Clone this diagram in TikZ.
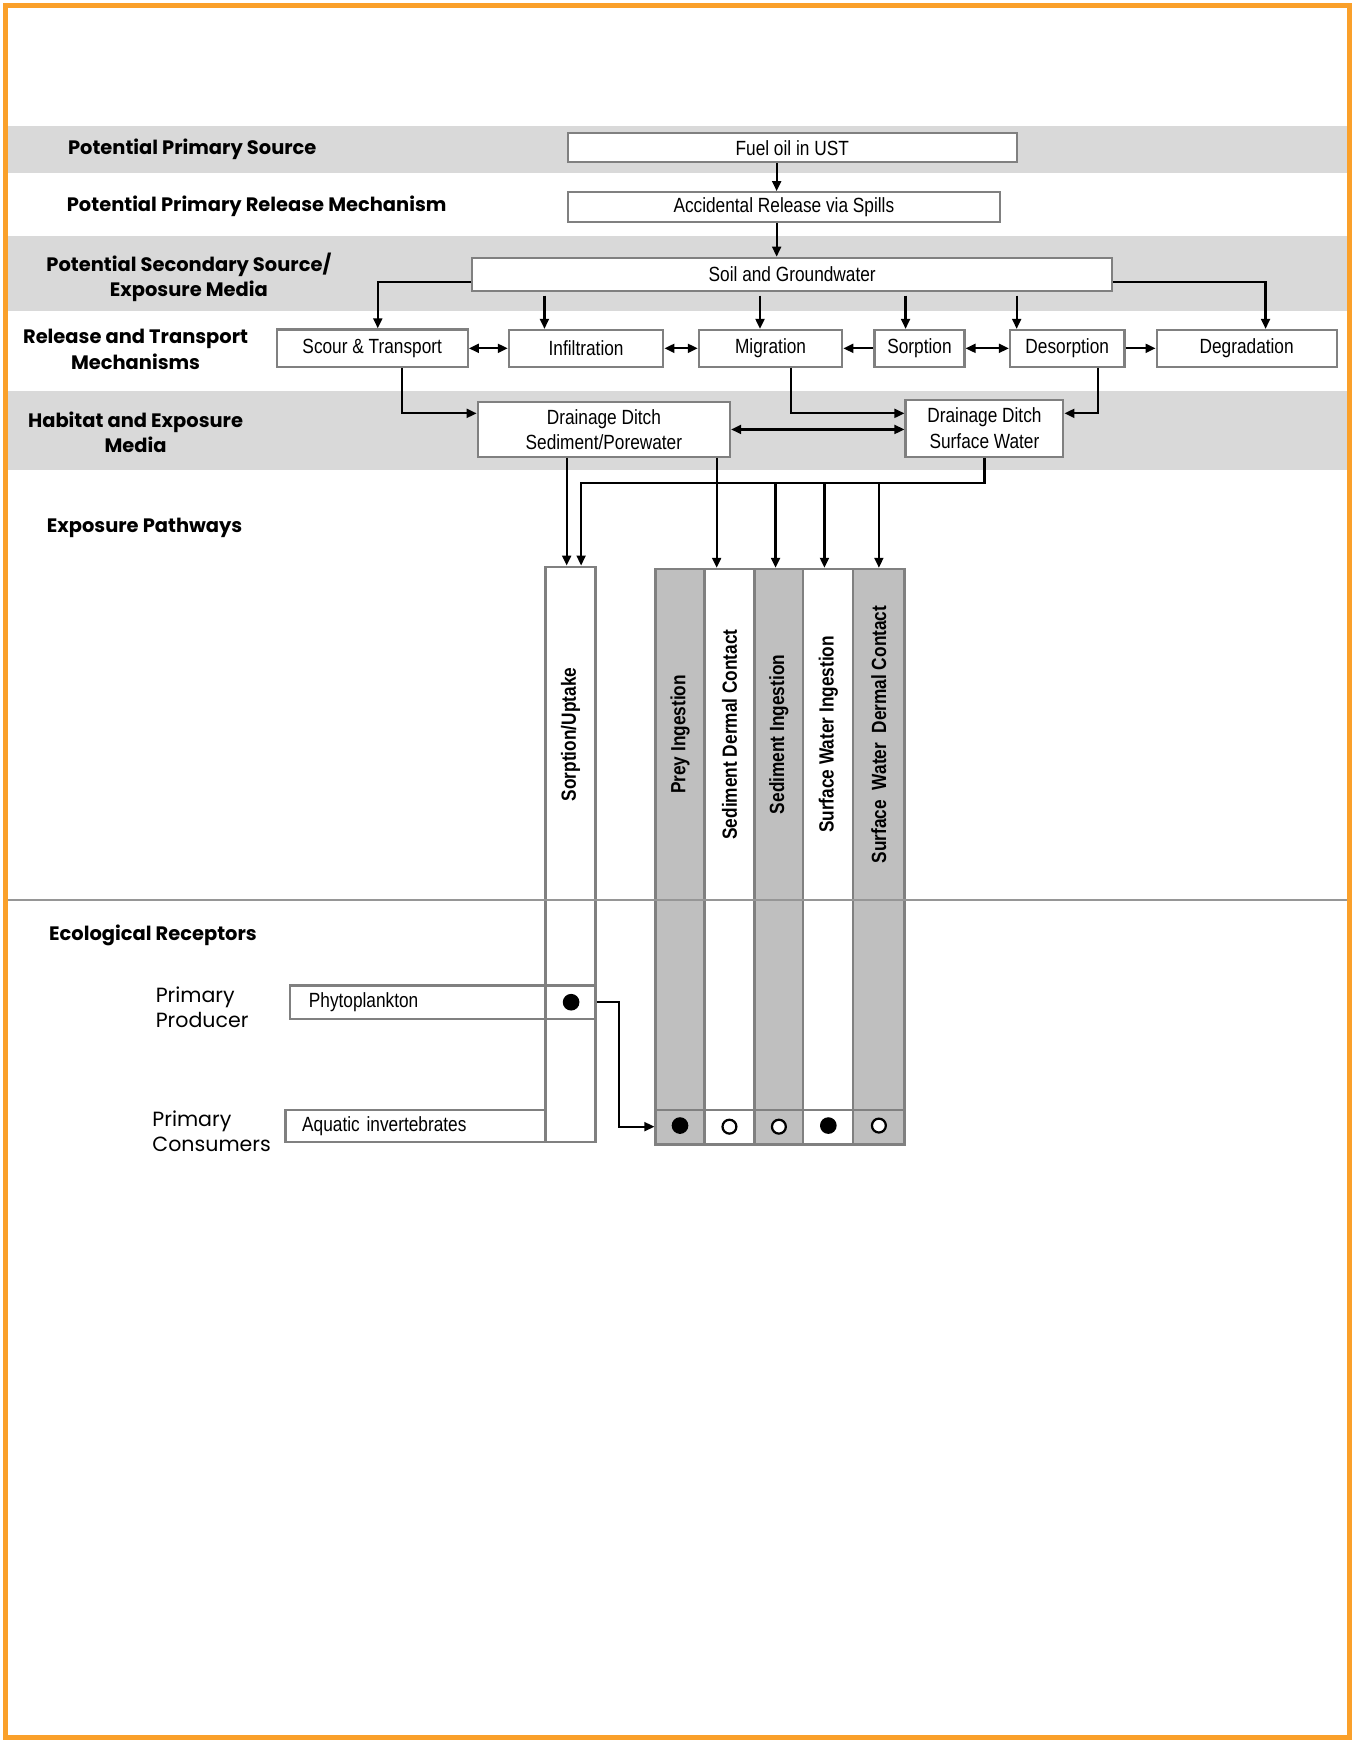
\documentclass[tikz,border=0pt]{standalone}
\usepackage{fontspec}
\setmainfont{Poppins}
\newfontfamily\nar[FakeStretch=0.84]{Liberation Sans}
\usetikzlibrary{arrows.meta}
\definecolor{orangeb}{RGB}{250,160,42}
\definecolor{bandgray}{RGB}{217,217,217}
\definecolor{colgray}{RGB}{191,191,191}
\definecolor{bordgray}{RGB}{128,128,128}
\definecolor{linegray}{RGB}{150,150,150}
\begin{document}
\begin{tikzpicture}[x=1pt,y=-1pt,
  bx/.style={draw=bordgray, line width=2pt, fill=white, inner sep=0pt, align=center,
     font=\nar\fontsize{18.5}{23}\selectfont},
  colw/.style={draw=bordgray, line width=2pt, fill=white, inner sep=0pt},
  colg/.style={draw=bordgray, line width=2pt, fill=colgray, inner sep=0pt},
  coltxt/.style={rotate=90, inner sep=0pt, font=\nar\bfseries\fontsize{18.5}{23}\selectfont},
  lbl/.style={align=center, inner sep=0pt, font=\bfseries\fontsize{17.5}{23}\selectfont},
  lblr/.style={align=left, inner sep=0pt, font=\fontsize{18.5}{23}\selectfont},
  arr/.style={line width=2pt, -{Triangle[length=9pt,width=8pt]}},
  darr/.style={line width=2pt, {Triangle[length=9pt,width=8pt]}-{Triangle[length=9pt,width=8pt]}},
  fdot/.style={circle, fill=black, inner sep=0pt, minimum size=15pt},
  odot/.style={circle, draw=black, line width=2pt, fill=white, inner sep=0pt, minimum size=12.5pt}
]
\useasboundingbox (0,0) rectangle (1219.5,1568.7);
% frame and bands
\draw[orangeb, line width=4.5pt] (5,5) rectangle (1214.5,1563.5);
\fill[bandgray] (7.5,113) rectangle (1212.5,156);
\fill[bandgray] (7.5,212) rectangle (1212.5,280);
\fill[bandgray] (7.5,352) rectangle (1212.5,423);

% left labels
\node[lbl] (l1) at (173,134) {Potential Primary Source};
\node[lbl] (l2) at (231,186) {Potential Primary Release Mechanism};
\node[lbl] (l3) at (170,249.5) {Potential Secondary Source/\\Exposure Media};
\node[lbl] (l4) at (122,314.5) {Release and Transport\\Mechanisms};
\node[lbl] (l5) at (122,389) {Habitat and Exposure\\Media};
\node[lbl, anchor=west] (l6) at (42,475) {Exposure Pathways};
\node[lbl, anchor=west] (l7) at (44,842) {Ecological Receptors};
\node[lblr, anchor=west] (l8) at (140,906.5) {Primary\\Producer};
\node[lblr, anchor=west] (l9) at (137,1018) {Primary\\Consumers};

% boxes
\node[bx, minimum width=404pt, minimum height=26pt] (fuel) at (713,133) {Fuel oil in UST};
\node[bx, minimum width=389pt, minimum height=27pt] (acc) at (705.5,186.5) {Accidental Release via Spills};
\node[bx, minimum width=576pt, minimum height=30pt] (soil) at (713,247) {Soil and Groundwater};
\node[bx, minimum width=172pt, minimum height=34pt] (scour) at (335,313.5) {Scour \& Transport};
\node[bx, minimum width=139pt, minimum height=33pt] (infil) at (527.5,313.5) {Infiltration};
\node[bx, minimum width=129pt, minimum height=33pt] (migr) at (693.5,313.5) {Migration};
\node[bx, minimum width=81pt, minimum height=33pt] (sorp) at (827.5,313.5) {Sorption};
\node[bx, minimum width=103pt, minimum height=33pt] (desorp) at (960.5,313.5) {Desorption};
\node[bx, minimum width=162pt, minimum height=33pt] (degr) at (1122,313.5) {Degradation};
\node[bx, minimum width=227pt, minimum height=49pt] (sed) at (543.5,386.5) {Drainage Ditch\\Sediment/Porewater};
\node[bx, minimum width=142pt, minimum height=51pt] (sw) at (886,385.5) {Drainage Ditch\\Surface Water};

% columns
\node[colw, minimum width=45pt, minimum height=518pt] (su) at (513.5,769) {};
\node[colg, minimum width=44pt, minimum height=518pt] (prey) at (612,771) {};
\node[colw, minimum width=45pt, minimum height=518pt] (sdc) at (656.5,771) {};
\node[colg, minimum width=44pt, minimum height=518pt] (si) at (701,771) {};
\node[colw, minimum width=45pt, minimum height=518pt] (swi) at (745.5,771) {};
\node[colg, minimum width=46pt, minimum height=518pt] (swdc) at (791,771) {};
\node[coltxt] (tsu) at (513.5,661) {Sorption/Uptake};
\node[coltxt] (tprey) at (612,661) {Prey Ingestion};
\node[coltxt] (tsdc) at (656.5,661) {Sediment Dermal Contact};
\node[coltxt] (tsi) at (701,661) {Sediment Ingestion};
\node[coltxt] (tswi) at (745.5,661) {Surface Water Ingestion};
\node[coltxt] (tswdc) at (791,661) {Surface\ \ Water\ \ Dermal Contact};
\draw[bordgray, line width=2pt] ([yshift=32pt]prey.south west) -- ([yshift=32pt]swdc.south east);

% receptors line
\draw[linegray, line width=2pt] (7.5,810) -- (1212.5,810);

% receptor rows
\node[bx, fill=none, minimum width=275pt, minimum height=30pt, text width=241pt, inner xsep=17pt, align=left] (phyto) at (398.5,902) {Phytoplankton};
\node[bx, minimum width=234pt, minimum height=29pt, text width=204pt, inner xsep=15pt, align=left] (aqua) at (374,1013.5) {Aquatic invertebrates};
\node[fdot] (p1) at (514,902) {};
\node[fdot] (d1) at (612,1013) {};
\node[odot] (d2) at (656.5,1014) {};
\node[odot] (d3) at (701,1014) {};
\node[fdot] (d4) at (745.5,1013) {};
\node[odot] (d5) at (791,1013) {};

% connectors
\coordinate (c699) at (699,0);
\draw[arr] (fuel.south -| c699) -- (acc.north -| c699);
\draw[arr] (acc.south -| c699) -- (soil.north -| c699);
\draw[arr] ([yshift=-7pt]soil.west) -| ([xshift=5pt]scour.north);
\draw[arr] ([xshift=-223pt,yshift=-3pt]soil.south) -- ([xshift=-37.5pt]infil.north);
\draw[arr] ([xshift=-29pt,yshift=-3pt]soil.south) -- ([xshift=-9.5pt]migr.north);
\draw[arr] ([xshift=102pt,yshift=-3pt]soil.south) -- ([xshift=-12.5pt]sorp.north);
\draw[arr] ([xshift=202pt,yshift=-3pt]soil.south) -- ([xshift=-45.5pt]desorp.north);
\draw[arr] ([yshift=-7pt]soil.east) -| ([xshift=17pt]degr.north);
\draw[darr] (scour.east) -- (infil.west);
\draw[darr] (infil.east) -- (migr.west);
\draw[arr] (sorp.west) -- (migr.east);
\draw[darr] (sorp.east) -- (desorp.west);
\draw[arr] (desorp.east) -- (degr.west);
\draw[arr] ([xshift=27pt]scour.south) |- ([yshift=14.5pt]sed.west);
\draw[arr] ([xshift=18.5pt]migr.south) |- ([yshift=13.5pt]sw.west);
\draw[arr] ([xshift=27.5pt]desorp.south) |- ([yshift=13.5pt]sw.east);
\draw[darr] (sed.east) -- (sed.east -| sw.west);
\draw[arr] ([xshift=-33.5pt]sed.south) -- ([xshift=-3.5pt]su.north);
\draw[arr] ([xshift=101.5pt]sed.south) -- ([xshift=-11.5pt]sdc.north);
\coordinate (bus) at (886,435);
\draw[arr] (sw.south) -- (bus) -| ([xshift=9.5pt]su.north);
\coordinate (b1) at (698,435);
\coordinate (b2) at (742,435);
\coordinate (b3) at (791,435);
\draw[arr] (b1) -- (b1 |- si.north);
\draw[arr] (b2) -- (b2 |- swi.north);
\draw[arr] (b3) -- (b3 |- swdc.north);
\coordinate (c557) at (557,0);
\draw[arr] (phyto.east) -- (phyto.east -| c557) |- ([yshift=17pt]prey.south west);
\end{tikzpicture}
\end{document}
